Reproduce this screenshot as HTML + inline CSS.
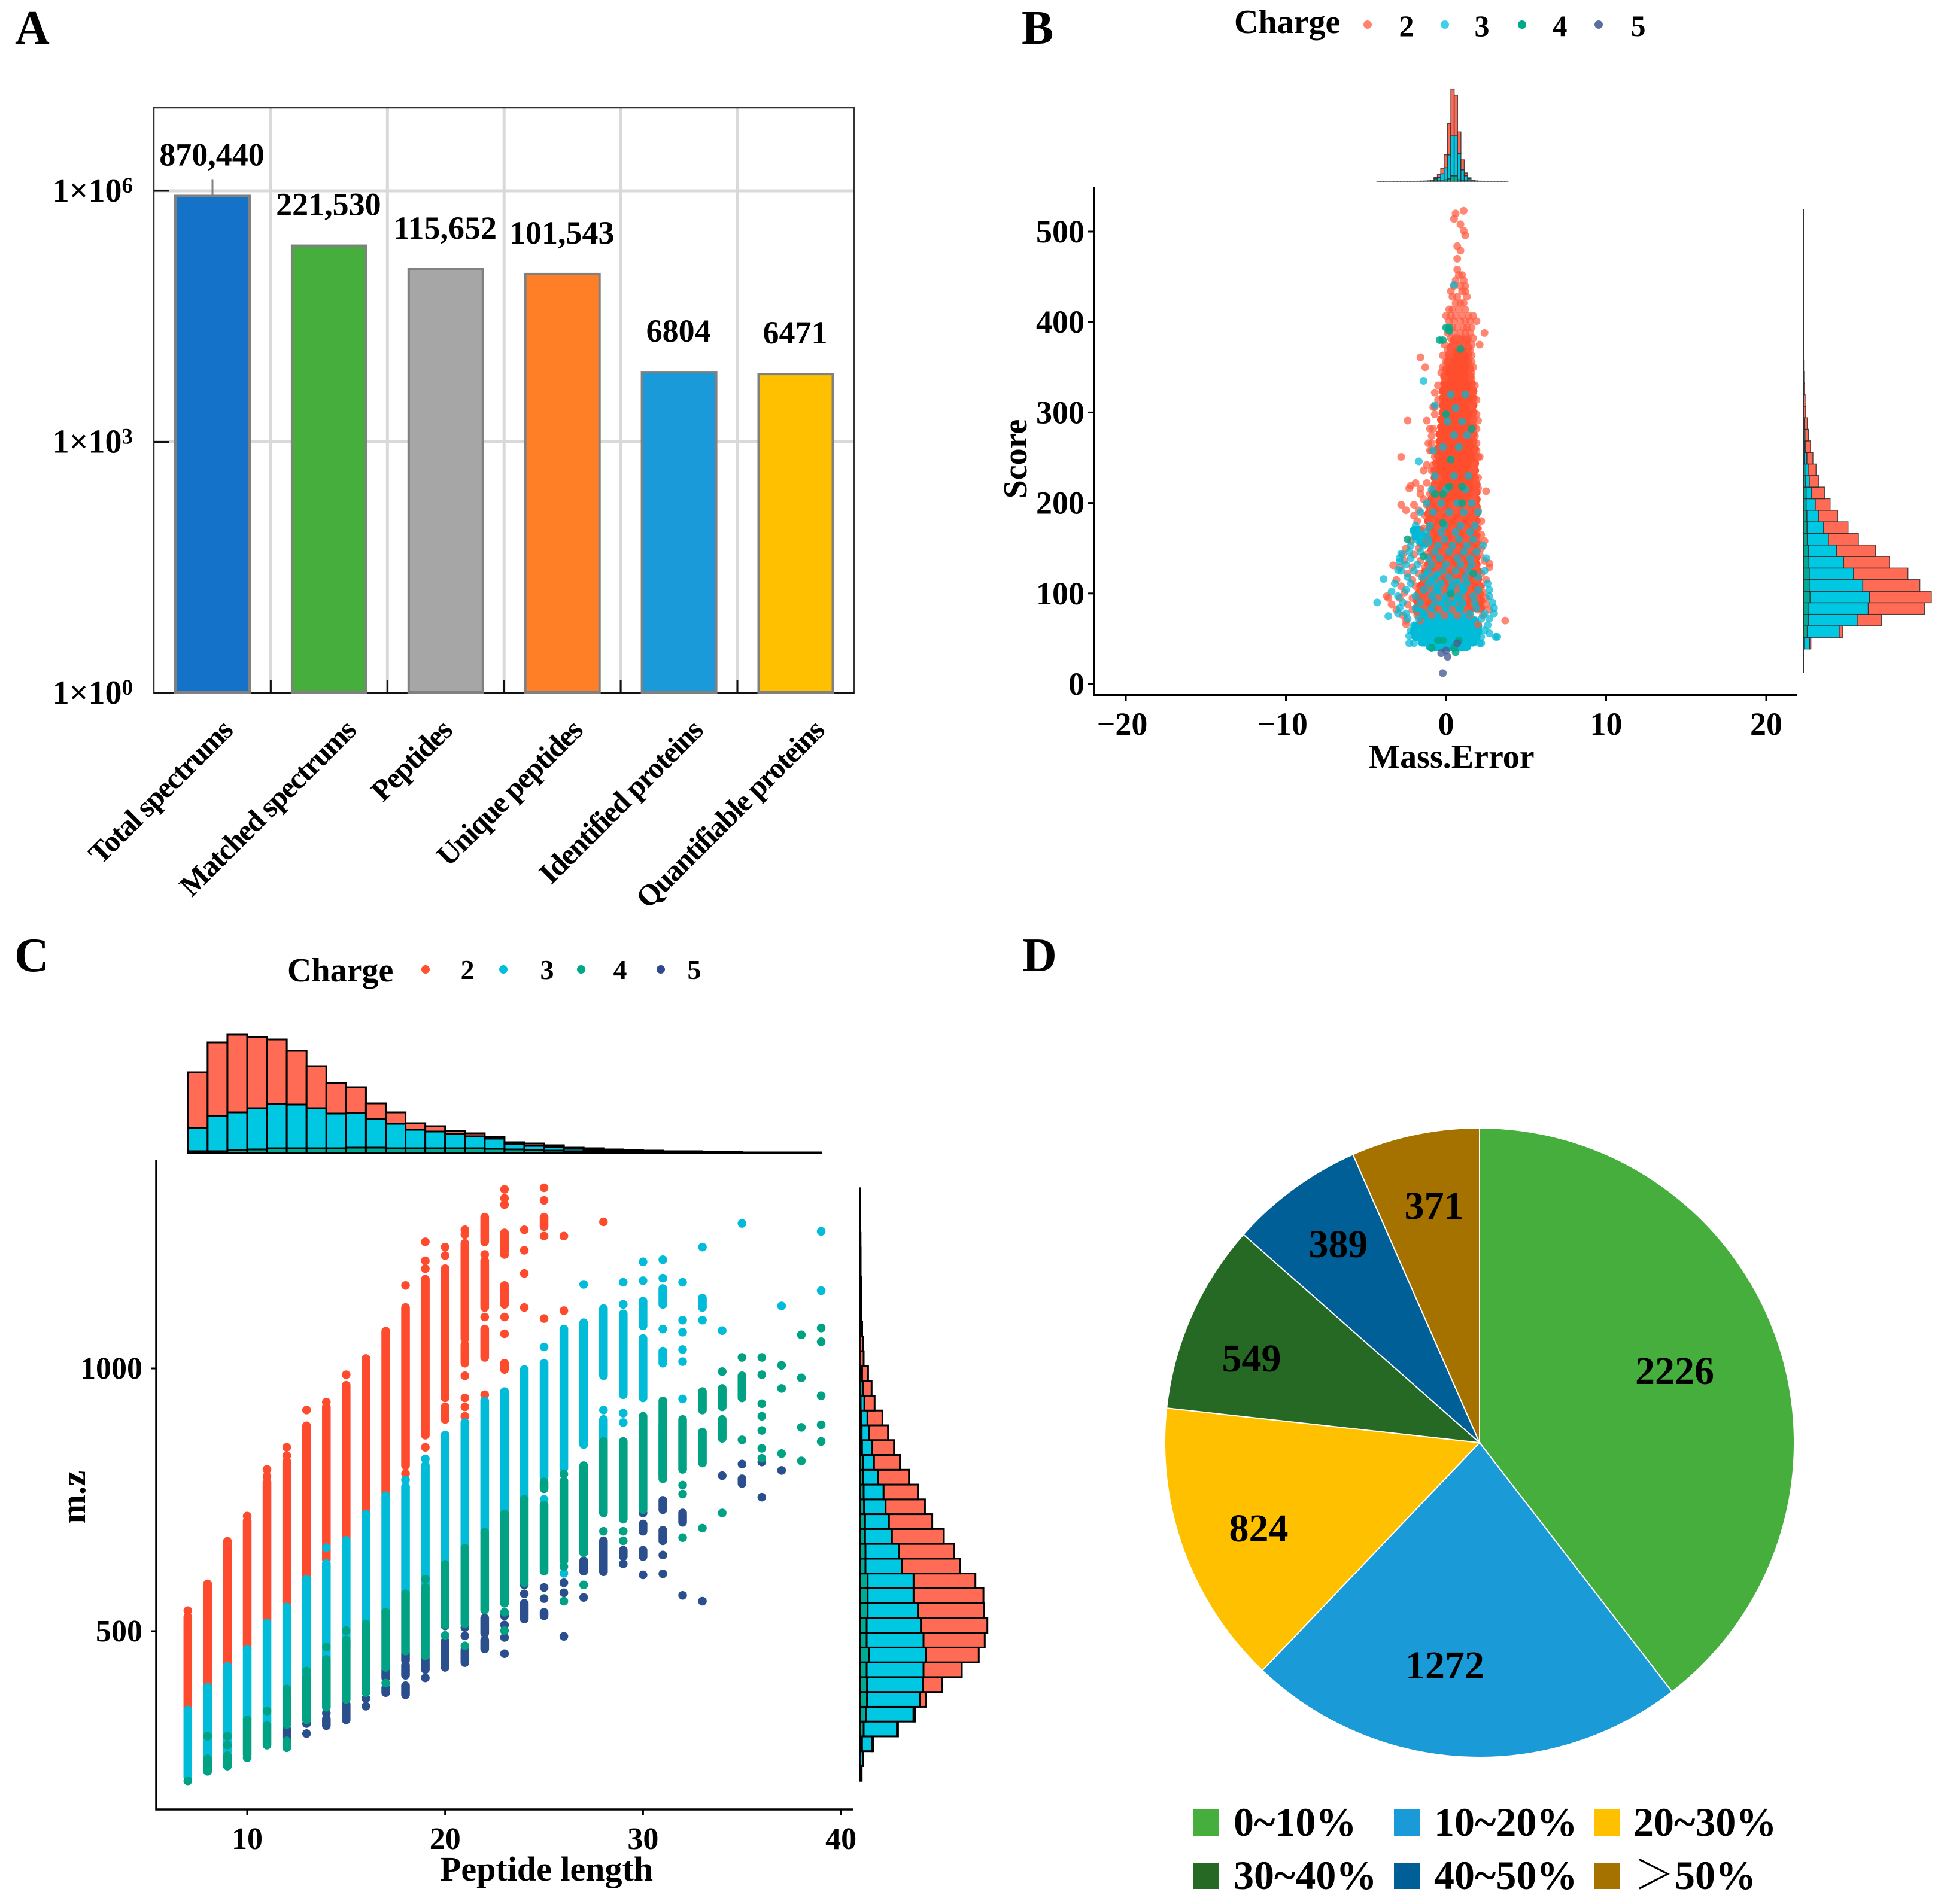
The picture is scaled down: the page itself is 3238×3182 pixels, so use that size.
<!DOCTYPE html>
<html lang="en">
<head>
<meta charset="utf-8">
<title>Proteomics QC figure</title>
<style>
html,body{margin:0;padding:0;background:#fff;}
svg{display:block;}
text{font-family:"Liberation Serif","Noto Serif CJK SC",serif;font-weight:bold;fill:#000;}
</style>
</head>
<body>
<svg id="fig" xmlns="http://www.w3.org/2000/svg" width="3238" height="3182" viewBox="0 0 3238 3182">
  <rect width="3238" height="3182" fill="#fff"/>
  <text x="25" y="73" font-size="80">A</text>
  <text x="1707" y="73" font-size="80">B</text>
  <text x="24" y="1623" font-size="80">C</text>
  <text x="1708" y="1623" font-size="80">D</text>

  <g id="panelA"></g>
  <g id="panelB"></g>
  <g id="panelC"></g>
  <g id="panelD"></g>

  <g>
    <text x="2062" y="55" font-size="56">Charge</text>
    <circle cx="2285" cy="41" r="7" fill="#ff5a40" fill-opacity=".75"/>
    <text x="2350" y="60" font-size="50" text-anchor="middle">2</text>
    <circle cx="2414" cy="41" r="7" fill="#00c0dc" fill-opacity=".75"/>
    <text x="2476" y="60" font-size="50" text-anchor="middle">3</text>
    <circle cx="2543" cy="41" r="7" fill="#00a888"/>
    <text x="2606" y="60" font-size="50" text-anchor="middle">4</text>
    <circle cx="2671" cy="41" r="7" fill="#5a6f9f"/>
    <text x="2737" y="60" font-size="50" text-anchor="middle">5</text>
  </g>
  <g>
    <text x="480" y="1640" font-size="56">Charge</text>
    <circle cx="711" cy="1620" r="7" fill="#ff5030"/>
    <text x="781" y="1636" font-size="46" text-anchor="middle">2</text>
    <circle cx="841" cy="1620" r="7" fill="#00bfdc"/>
    <text x="914" y="1636" font-size="46" text-anchor="middle">3</text>
    <circle cx="971" cy="1620" r="7" fill="#00a888"/>
    <text x="1036" y="1636" font-size="46" text-anchor="middle">4</text>
    <circle cx="1104" cy="1620" r="7" fill="#30488c"/>
    <text x="1160" y="1636" font-size="46" text-anchor="middle">5</text>
  </g>
  <g>
    <rect x="1994" y="3024" width="43" height="44" fill="#45ae3c"/>
    <text x="2061" y="3068" font-size="68">0~10%</text>
    <rect x="2329" y="3024" width="43" height="44" fill="#1b9ad8"/>
    <text x="2396" y="3068" font-size="68">10~20%</text>
    <rect x="2664" y="3024" width="43" height="44" fill="#ffc000"/>
    <text x="2729" y="3068" font-size="68">20~30%</text>
    <rect x="1994" y="3113" width="43" height="44" fill="#256925"/>
    <text x="2061" y="3157" font-size="68">30~40%</text>
    <rect x="2329" y="3113" width="43" height="44" fill="#005f96"/>
    <text x="2396" y="3157" font-size="68">40~50%</text>
    <rect x="2664" y="3113" width="43" height="44" fill="#a57200"/>
    <text x="2730" y="3157" font-size="68">＞50%</text>
  </g>
</svg>
<script>
/* ---------- Panel A data ---------- */
const summaryCategories = ["Total spectrums","Matched spectrums","Peptides","Unique peptides","Identified proteins","Quantifiable proteins"];
const summaryValues = [870440,221530,115652,101543,6804,6471];
const summaryLabels = ["870,440","221,530","115,652","101,543","6804","6471"];
const summaryColors = ["#1572c9","#45ae3c","#a6a6a6","#ff7f27","#1a9ad8","#ffc000"];
const summaryTickExponents = [0,3,6];

/* ---------- Panel B data ---------- */
const massErrorTicks = [-20,-10,0,10,20];
const scoreTicks = [0,100,200,300,400,500];
/* dense core of charge 2: [score, errLow, errHigh] */
const scoreRunsCharge2 = [[380,.5,1.3],[372,.3,1.4],[364,.2,1.4],[356,.1,1.4],[348,0,1.5],[340,-.1,1.5],[332,-.1,1.6],[324,-.2,1.7],[316,-.2,1.7],[308,-.2,1.7],[300,-.2,1.7],[292,-.3,1.7],[284,-.3,1.7],[276,-.4,1.7],[268,-.4,1.7],[260,-.5,1.8],[252,-.5,1.8],[244,-.6,1.8],[236,-.7,1.8],[228,-.7,1.8],[220,-.7,1.9],[212,-.8,1.9],[204,-.9,1.9],[196,-1.0,1.9],[188,-1.1,1.9],[180,-1.1,1.9],[172,-1.0,1.9],[164,-.9,1.9],[156,-.9,1.9],[148,-.9,1.9],[140,-1.0,1.9],[132,-1.1,1.9],[124,-1.3,2.0],[116,-1.4,2.0],[108,-1.6,2.1],[100,-1.7,2.1],[92,-1.8,2.2],[84,-1.8,2.2]];
/* dense patches of charge 3 */
const scoreRunsCharge3 = [[170,-2.0,-1.6],[163,-1.9,-1.2],[156,-1.6,-1.1],[120,-1.2,-.6],[112,-1.0,-.4],[112,.4,1.2],[104,-.9,-.4],[104,.3,1.0],[96,-.6,-.2],[96,.5,1.0],[88,-.3,.3],[88,.6,1.0],[80,-1.8,-1.0],[80,-.2,.9],[76,-1.2,1.4],[70,-1.5,1.8],[64,-1.9,2.0],[58,-2.0,2.0],[52,-1.9,1.9],[46,-1.5,1.7],[41,-1.0,1.3]];
/* individual points: [score, [mass errors]] */
const pointRowsCharge2 = [[523,[1.1]],[520,[.6]],[514,[.5]],[508,[.9]],[501,[1.1]],[496,[1.2]],[484,[.7]],[479,[.9]],[470,[.7]],[458,[.7]],[452,[.8,1.0]],[446,[.6,1.1]],[440,[.5,.9,1.2]],[434,[.3,1.0,1.2]],[428,[.4,.7,1.3]],[421,[.6,.9,1.1]],[414,[.2,.4,.8,1.2]],[407,[0,.3,.6,1.0,1.4,1.7]],[401,[.2,.5,.9,1.2,1.5,1.9]],[394,[.4,.7,1.1,1.3,1.6]],[388,[.1,.5,.9,1.2,1.5,2.4]],[382,[.3,.6,.8,1.1,1.4,1.7]],[375,[-.1,.4,.7,1.0,1.3,1.6,2.1]],[369,[.1,.3,1.5]],[363,[-.2,.2,1.6]],[361,[-1.6]],[356,[0,1.6]],[350,[-1.3,-.2,1.7]],[344,[-.3,1.6]],[338,[-.1,1.6]],[330,[-.5,1.8]],[322,[-.7,1.7]],[314,[-.5,1.9]],[306,[-.8,-.7,1.6]],[298,[-.7,1.9]],[291,[-2.4,-1.2,1.7,2.0]],[282,[-1.0,-.8,1.9]],[274,[-.9,1.8]],[266,[-1.1,-.9,1.9]],[258,[-1.0,-.9,1.9]],[251,[-2.8,-.7,2.0,2.1]],[242,[-1.2,-.8,1.8]],[236,[-1.4,-.9,1.7]],[228,[-.5,2.0]],[222,[-1.9,-1.2,-.7,1.9]],[219,[-2.2]],[216,[-2.3,-1.6,-.8,2.0]],[213,[2.5]],[210,[-1.6,-1.0,1.8]],[204,[-1.4,-.6,1.7]],[198,[-2.8,-2.0,-1.2,-.4,.4,1.2,1.8]],[192,[-2.5,-1.7,-1,-.2,.6,1.4,2.0]],[186,[-2.0,-1.3,-.5,.3,1.1,1.7]],[180,[-1.8,-.9,0,.8,1.6,2.2]],[172,[-1.4,-.5,.4,1.2,2.0]],[165,[-1.0,-.2,.6,1.4,2.2]],[158,[-2.2,-1.2,-.4,.4,1.2,2.0,2.4]],[150,[-2.5,-1.7,-.9,-.1,.7,1.5,2.2]],[143,[-2.7,-2.0,-1.2,-.3,.5,1.3,2.1]],[136,[-2.6,-1.6,-.8,.1,.9,1.7,2.4]],[133,[2.7]],[131,[-3.3]],[129,[-2.9,-2.1,-1.3,-.5,.3,1.1,1.9,2.7]],[122,[-2.4,-1.7,-.9,-.1,.7,1.5,2.2]],[115,[-3.1,-2.1,-1.3,-.5,.3,1.1,1.9,2.5]],[108,[-2.8,-1.9,-1.0,-.2,.6,1.4,2.2]],[101,[-2.6,-1.7,-.9,-.1,.7,1.5,2.3]],[97,[-3.7]],[95,[-3.6,-2.9,-2.1,-1.3,-.5,.3,1.1,1.9,2.5]],[88,[-3.4,-2.4,-1.5,-.7,.1,.9,1.7,2.5]],[82,[-3.1,-2.1,-1.2,-.4,.4,1.2,2.0,2.7]],[76,[-2.7,-1.8,-.9,-.1,.7,1.5,2.3]],[70,[-2.5,-1.6,3.7]],[66,[-2.5,2.0]]];
const pointRowsCharge3 = [[441,[.5]],[335,[-1.4]],[320,[.3,1.2]],[308,[-.7]],[305,[.6]],[290,[.1,1.0]],[275,[.5,1.3]],[262,[-.2,.8]],[258,[-.8]],[246,[-1.7]],[230,[-.7,.5,1.4]],[215,[-.9,0,1.2]],[200,[-1.2,-.3,.7,1.6]],[190,[-1.6,-.8,.2,1.1,2.0]],[175,[-1.9,-1.0,-.1,.9,1.8]],[168,[-2.0,-1.2,-.3,.6,1.5]],[160,[-1.9,-1.1,-.1,.8,1.7]],[153,[-2.2,-1.4,-.5,.4,1.3,2.3]],[146,[-2.3,-1.6,-.7,.2,1.1,1.9]],[144,[-2.8]],[139,[-2.9,-2.2,-1.1,-.4,.7,1.5,2.5]],[135,[-2.9]],[132,[-2.5,-1.8,-.9,0,.9,1.6]],[126,[-3.0]],[125,[-2.8,-2.0,-1.1,-.2,.6,1.4,2.4]],[118,[-2.4,-1.5,-.7,.2,1.2,2.0]],[116,[-3.9]],[111,[-3.2,-2.2,-1.1,-.3,.5,1.3,2.6]],[104,[-2.5,-1.4,-.6,.3,1.1,2.0,2.7]],[102,[-3.4]],[97,[-3.0,-1.9,-.9,0,.8,1.7,2.7]],[90,[-4.3,-2.7,-1.6,-.7,.2,1.0,1.8,2.9]],[84,[-2.9,-1.9,-.9,0,.9,1.9,3.0]],[78,[-3.0,-2.5,-1.4,1.5,2.4,3.0]],[75,[-3.6]],[72,[-2.4,-1.7,2.2,2.7]],[65,[-2.0,2.6]],[59,[-2.2,2.4]],[56,[2.7]],[53,[-2.3]],[52,[2.2,3.1,3.2]],[45,[-2.3,-2.0,2.1,2.2]]];
const pointRowsCharge4 = [[394,[0,.2]],[390,[.2]],[380,[-.4,-.2]],[370,[.9]],[298,[0]],[282,[1.6]],[248,[.3]],[218,[.2,1.0]],[210,[-.7,-.2]],[200,[1.0]],[178,[-.2]],[160,[-2.4]],[141,[-1.4]],[122,[1.7]],[100,[.3]],[48,[-.5,-.2,.8]],[40,[-.9,.5]],[35,[.6]]];
const pointRowsCharge5 = [[45,[.7]],[37,[0]],[34,[-.3]],[30,[.1]],[12,[-.2]]];
/* marginal histograms (bin counts) */
const massErrorHistCharge2 = [1,1,1,1,1,1,1,1,1,1,2,2,3,4,6,10,20,23,50,93,217,523,783,683,360,167,47,17,15,8,4,3,2,1,1,1,1,1,1];
const massErrorHistCharge3 = [0,0,0,0,0,0,0,0,0,0,0,0,0,0,0,0,0,33,57,117,200,400,667,667,440,183,83,33,0,0,0,0,0,0,0,0,0,0,0];
const massErrorHistCharge4 = [0,0,0,0,0,0,0,0,0,0,0,0,0,0,0,0,0,10,10,10,27,43,93,93,27,10,10,10,0,0,0,0,0,0,0,0,0,0,0];
const scoreHistCharge2 = [20,60,407,940,1033,953,907,767,647,500,407,313,247,213,160,133,100,80,60,50,40,30,20,10,5];
const scoreHistCharge3 = [83,533,817,993,993,893,740,580,473,353,277,200,153,93,67,53,43,23,17,10,0,0,0,0,0];
const scoreHistCharge4 = [23,67,83,93,113,100,100,93,87,67,63,60,47,47,33,27,17,17,10,7,0,0,0,0,0];

/* ---------- Panel C data ---------- */
const lengthTicks = [10,20,30,40];
const mzTicks = [500,1000];
const peptideLengths = [7,8,9,10,11,12,13,14,15,16,17,18,19,20,21,22,23,24,25,26,27,28,29,30,31,32,33,34,35,36,37,38,39];
/* m/z values per peptide length: [low, high] = run of overlapping points, [v] = single point */
const mzCharge2 = [
 [[539],[350,527]],[[394,590]],[[433,671]],[[719],[466,710]],[[808],[795],[518,784]],[[850],[834],[546,823]],[[921],[599,891]],[[936],[636,927]],[[988],[675,968]],[[725,1019]],[[762,1071]],[[1158],[800],[815,1116]],
 [[1241],[1205],[1190],[873,1170],[850]],[[1231],[1215],[944,1190],[903,927],[873]],[[1264],[1255],[1057,1238],[1010,1045],[986],[944],[927],[909]],[[1241,1288],[1217],[1116,1205],[1098],[1021,1075],[950]],
 [[1341],[1324],[1312],[1223,1258],[1217],[1122,1158],[1098],[1066],[998,1010]],[[1264],[1225],[1181],[1116]],[[1344],[1320],[1270,1288],[1252],[1095]],[[1252],[1110]],[],[[1279]],[],[],[],[],[],[],[],[],[],[],[]];
const mzCharge3 = [
 [[222,350]],[[248,394]],[[270,433]],[[331,466]],[[322,516]],[[381,546]],[[413,599]],[[659],[446,629]],[[461,673]],[[514,723]],[[536,758]],[[788],[571,775]],[[828],[583,815]],[[627,873]],[[658,897]],[[688,938]],[[727,956]],[[751,998]],
 [[1041],[793,1010],[751]],[[810,1075],[610]],[[1160],[855,1087]],[[986,1114],[921],[861,903]],[[1164],[1122],[950,1104],[915],[897]],[[1203],[1167],[1081,1128],[944,1057]],[[1207],[1172],[1122,1152],[1075],[1010,1033],[796,891]],
 [[1164],[1092],[1069],[1036],[1013],[942]],[[1231],[1116,1134],[1092]],[[1072]],[[1276]],[],[[1119]],[],[[1261],[1148]]];
const mzCharge4 = [
 [[215]],[[233,257],[300]],[[243,263],[283],[300]],[[265,331],[259]],[[283,320],[348]],[[278,291],[322,381],[390]],[[331,413],[424]],[[355,446],[470]],[[370,461],[466,483],[501]],[[383,514]],[[431,536],[401]],[[462,571]],[[453,583],[599]],[[512,627],[492]],[[514,658],[472]],[[540,688]],[[553,723],[536],[501]],[[592,751]],[[614,740],[771,784]],[[634,786],[799],[623],[557]],[[649,815],[588]],[[725,861],[690]],[[713,861],[690],[672]],[[731,909]],[[790,938]],
 [[808,903],[778],[761],[678]],[[921,956],[820,879],[696]],[[994],[927,962],[867,903],[725]],[[1021],[944,986],[864]],[[1021],[988],[933],[909],[882],[848],[829]],[[1006],[962],[838]],[[1064],[982],[888],[824]],[[1077],[1051],[948],[893],[861]]];
const mzCharge5 = [
 [],[],[],[],[],[[296,313]],[[324],[305]],[[344],[320,333]],[[379],[331,361]],[[372],[357]],[[411,427],[383,392]],[[444,459],[416,435],[379,396]],[[427,448],[411]],[[510],[431,481]],[[507],[491],[440,464]],[[496,525],[466,483]],[[554],[529],[512],[488],[457]],[[588],[571],[523,553]],[[583],[562],[529,536]],[[592],[573],[490]],[[614,634],[564]],[[613,672]],[[642,654],[628]],[[725],[690,704],[642,654],[607]],[[731,749],[672,692],[645],[609]],[[707,725],[568]],[[557]],[[796]],[[818],[781,790]],[[822],[755]],[[806]],[],[]];
const lengthHistCharge2 = [930,1230,1300,1190,1080,900,700,510,430,260,190,110,90,50,50,30,30,40,30,20,30,20,20,20,10,20,10,10,0,10,10,10];
const lengthHistCharge3 = [390,590,630,690,740,730,670,580,580,480,410,310,280,240,200,170,90,70,60,40,30,20,20,10,10,0,0,10,10,0,0,0];
const lengthHistCharge4 = [30,30,50,60,80,80,80,80,90,90,80,80,80,80,80,70,60,50,40,30,20,20,10,10,10,10,10,0,0,0,0,0];
const mzHistCharge2 = [0,0,17,17,23,100,323,640,883,1023,1110,1100,1167,1033,973,917,867,723,657,573,517,433,367,317,250,170,143,100,60,50,35,25,20,15,10,10,8,5,5,5];
const mzHistCharge3 = [27,50,167,557,793,883,933,950,950,950,907,840,767,767,610,560,450,400,360,333,250,183,167,123,107,63,43,27,0,0,0,0,0,0,0,0,0,0,0,0];
const mzHistCharge4 = [0,0,33,60,100,117,117,110,150,110,110,127,127,127,90,90,83,83,67,60,50,50,33,27,17,10,7,7,0,0,0,0,0,0,0,0,0,0,0,0];

/* ---------- Panel D data ---------- */
const coverageCounts = [2226,1272,824,549,389,371];
const coverageColors = ["#45ae3c","#1b9ad8","#ffc000","#256925","#005f96","#a57200"];

/* ---------- helpers ---------- */
const NS = 'http://www.w3.org/2000/svg';
function mk(parent, tag, attrs, text) {
  const el = document.createElementNS(NS, tag);
  for (const k in attrs) el.setAttribute(k, attrs[k]);
  if (text !== undefined) el.textContent = text;
  parent.appendChild(el);
  return el;
}
const RED_HIST = '#ff6b55', CYAN_HIST = '#00c8e2', GREEN_HIST = '#00ab96';

/* ---------- Panel A ---------- */
(function () {
  const g = document.getElementById('panelA');
  const left = 257, right = 1427, top = 180, bottom = 1158;
  const yA = v => bottom - Math.log10(v) * 139.83;
  const xA = i => 355 + i * 194.9;
  for (const e of summaryTickExponents) {
    if (e > 0) {
      const line = mk(g, 'line', {x1: left, x2: right, y1: yA(Math.pow(10, e)), y2: yA(Math.pow(10, e)), stroke: '#d9d9d9', 'stroke-width': 5});
      
      
    }
  }
  for (let i = 0; i < summaryValues.length - 1; i++) {
    const x = xA(i) + 97.4;
    const line = mk(g, 'line', {x1: x, x2: x, y1: top, y2: bottom, stroke: '#d9d9d9', 'stroke-width': 5});
    
    
    const tick = mk(g, 'line', {x1: x, x2: x, y1: bottom - 22, y2: bottom, stroke: '#111', 'stroke-width': 3});
    
    
  }
  const frame = mk(g, 'rect', {x: left, y: top, width: right - left, height: bottom - top, fill: 'none', stroke: '#333', 'stroke-width': 2.5});
  
  
  const base = mk(g, 'line', {x1: left, x2: right, y1: bottom, y2: bottom, stroke: '#111', 'stroke-width': 4});
  
  
  const leader = mk(g, 'line', {x1: xA(0), x2: xA(0), y1: yA(summaryValues[0]) - 28, y2: yA(summaryValues[0]), stroke: '#808080', 'stroke-width': 3});
  
  
  const nudge = [36, 47, 13, 36, 42, 50];
  summaryValues.forEach((v, i) => {
    const bar = mk(g, 'rect', {x: xA(i) - 62, y: yA(v), width: 124, height: bottom - yA(v) - 1, fill: summaryColors[i], stroke: '#808080', 'stroke-width': 4});
    
    
    const val = mk(g, 'text', {x: xA(i) - 1, y: yA(v) - 51, 'font-size': 54, 'text-anchor': 'middle'}, summaryLabels[i]);
    
    
    const ax = xA(i) + nudge[i], ay = 1224;
    const cat = mk(g, 'text', {x: ax, y: ay, 'font-size': 50, 'text-anchor': 'end', 'letter-spacing': -1.75, transform: 'rotate(-45 ' + ax + ' ' + ay + ')'}, summaryCategories[i]);
    
    
  });
  for (const e of summaryTickExponents) {
    const y = yA(Math.pow(10, e));
    const t = mk(g, 'line', {x1: left, x2: left + 25, y1: y, y2: y, stroke: '#111', 'stroke-width': 3});
    
    
    const lab = mk(g, 'text', {x: 222, y: y + 18, 'font-size': 56, 'text-anchor': 'end'});
    
    
    mk(lab, 'tspan', {}, '1×10');
    mk(lab, 'tspan', {'font-size': 37, dy: -15}, String(e));
  }
})();

/* ---------- shared stacked histograms ---------- */
function vertHist(parent, xOf, base, k, sers, colors, stroke, sw) {
  sers[0].forEach((_, i) => {
    let acc = 0;
    for (let s = sers.length - 1; s >= 0; s--) {
      const v = sers[s][i];
      if (v <= 0) continue;
      const r = mk(parent, 'rect', {x: xOf(i), y: base - (acc + v) * k, width: xOf(i + 1) - xOf(i), height: v * k, fill: colors[s], stroke: stroke, 'stroke-width': sw});
      
      
      acc += v;
    }
  });
}
function horizHist(parent, yOf, base, k, sers, colors, stroke, sw) {
  sers[0].forEach((_, i) => {
    let acc = 0;
    for (let s = sers.length - 1; s >= 0; s--) {
      const v = sers[s][i];
      if (v <= 0) continue;
      const r = mk(parent, 'rect', {x: base + acc * k, y: yOf(i + 1), width: v * k, height: yOf(i) - yOf(i + 1), fill: colors[s], stroke: stroke, 'stroke-width': sw});
      
      
      acc += v;
    }
  });
}

/* ---------- Panel B ---------- */
(function () {
  const g = document.getElementById('panelB');
  const xB = e => 2416 + e * 26.75;
  const yB = s => 1143 - s * 1.512;
  const RAD = 6.5;
  function runs(data, color) {
    data.forEach(r => {
      const l = mk(g, 'line', {x1: xB(r[1]), x2: xB(r[2]), y1: yB(r[0]), y2: yB(r[0]), stroke: color, 'stroke-width': 14, 'stroke-linecap': 'round'});
      
      
    });
  }
  function rows(data, color, op) {
    data.forEach(r => r[1].forEach(e => {
      const c = mk(g, 'circle', {cx: xB(e), cy: yB(r[0]), r: RAD, fill: color, 'fill-opacity': op});
      
      
    }));
  }
  runs(scoreRunsCharge2, '#ff4e2e');
  runs(scoreRunsCharge3, '#00bcd8');
  rows(pointRowsCharge2, '#ff5a40', .72);
  rows(pointRowsCharge3, '#00b9d6', .72);
  rows(pointRowsCharge4, '#00a888', .85);
  rows(pointRowsCharge5, '#4a5f95', .8);

  const hx = i => xB(-4.32 + i * 0.21);
  vertHist(g, hx, 303, 0.1, [massErrorHistCharge2, massErrorHistCharge3, massErrorHistCharge4], [RED_HIST, CYAN_HIST, GREEN_HIST], 'rgba(40,40,40,.8)', 1.5);
  const hy = i => yB(38.6 + i * 12.78);
  horizHist(g, hy, 3013, 0.1, [scoreHistCharge2, scoreHistCharge3, scoreHistCharge4], [RED_HIST, CYAN_HIST, GREEN_HIST], 'rgba(40,40,40,.8)', 1.5);
  const ra = mk(g, 'line', {x1: 3013, x2: 3013, y1: 349, y2: 1124, stroke: '#333', 'stroke-width': 2});
  
  

  const ax = mk(g, 'path', {d: 'M1828 312V1162H3002', fill: 'none', stroke: '#000', 'stroke-width': 4});
  
  
  massErrorTicks.forEach(v => {
    const t = mk(g, 'line', {x1: xB(v), x2: xB(v), y1: 1162, y2: 1171, stroke: '#000', 'stroke-width': 3});
    
    
    const lab = mk(g, 'text', {x: xB(v) - (v < 0 ? 6 : 0), y: 1228, 'font-size': 54, 'text-anchor': 'middle'}, v < 0 ? '\u2212' + (-v) : String(v));
    
    
  });
  scoreTicks.forEach(v => {
    const t = mk(g, 'line', {x1: 1817, x2: 1828, y1: yB(v), y2: yB(v), stroke: '#000', 'stroke-width': 3});
    
    
    const lab = mk(g, 'text', {x: 1812, y: yB(v) + 18, 'font-size': 54, 'text-anchor': 'end'}, String(v));
    
    
  });
  const xt = mk(g, 'text', {x: 2425, y: 1283, 'font-size': 56, 'text-anchor': 'middle'}, 'Mass.Error');
  
  
  const yt = mk(g, 'text', {x: 1715, y: 767, 'font-size': 56, 'text-anchor': 'middle', transform: 'rotate(-90 1715 767)'}, 'Score');
  
  
})();

/* ---------- Panel C ---------- */
(function () {
  const g = document.getElementById('panelC');
  const xC = L => 413 + (L - 10) * 33.07;
  const yC = v => 2726 - (v - 500) * 0.878;
  function strips(data, color) {
    data.forEach((list, i) => list.forEach(r => {
      const lo = r[0], hi = r.length > 1 ? r[1] : r[0];
      const l = mk(g, 'line', {x1: xC(peptideLengths[i]), x2: xC(peptideLengths[i]), y1: yC(lo), y2: yC(hi), stroke: color, 'stroke-width': 14.5, 'stroke-linecap': 'round'});
      
      
    }));
  }
  strips(mzCharge2, '#ff4b2d');
  strips(mzCharge3, '#00bcd8');
  strips(mzCharge5, '#2b4f8c');
  strips(mzCharge4, '#00a283');

  const hx = i => xC(7 + i);
  vertHist(g, hx, 1927, 0.1, [lengthHistCharge2, lengthHistCharge3, lengthHistCharge4], [RED_HIST, CYAN_HIST, GREEN_HIST], '#000', 3);
  const hy = i => yC(215 + i * 28.2);
  horizHist(g, hy, 1437, 0.1, [mzHistCharge2, mzHistCharge3, mzHistCharge4], [RED_HIST, CYAN_HIST, GREEN_HIST], '#000', 3);
  const ra = mk(g, 'line', {x1: 1437, x2: 1437, y1: 1987, y2: 2976, stroke: '#000', 'stroke-width': 4});
  
  

  const ax = mk(g, 'path', {d: 'M261 1938V3024H1425', fill: 'none', stroke: '#000', 'stroke-width': 3.5});
  
  
  lengthTicks.forEach(v => {
    const t = mk(g, 'line', {x1: xC(v), x2: xC(v), y1: 3024, y2: 3033, stroke: '#000', 'stroke-width': 3});
    
    
    const lab = mk(g, 'text', {x: xC(v), y: 3090, 'font-size': 52, 'text-anchor': 'middle'}, String(v));
    
    
  });
  mzTicks.forEach(v => {
    const t = mk(g, 'line', {x1: 252, x2: 261, y1: yC(v), y2: yC(v), stroke: '#000', 'stroke-width': 3});
    
    
    const lab = mk(g, 'text', {x: 238, y: yC(v) + 17, 'font-size': 52, 'text-anchor': 'end'}, String(v));
    
    
  });
  const xt = mk(g, 'text', {x: 913, y: 3143, 'font-size': 58, 'text-anchor': 'middle'}, 'Peptide length');
  
  
  const yt = mk(g, 'text', {x: 142, y: 2502, 'font-size': 58, 'text-anchor': 'middle', transform: 'rotate(-90 142 2502)'}, 'm.z');
  
  
})();

/* ---------- Panel D ---------- */
(function () {
  const g = document.getElementById('panelD');
  const cx = 2472, cy = 2411, R = 526;
  const total = coverageCounts.reduce((a, b) => a + b, 0);
  const offsets = [[326, -120], [-58, 372], [-369, 143], [-381, -141], [-236, -332], [-76, -396]];
  let ang = 0;
  coverageCounts.forEach((v, i) => {
    const a0 = ang, a1 = ang + v / total * 2 * Math.PI;
    ang = a1;
    const p0 = [cx + R * Math.sin(a0), cy - R * Math.cos(a0)];
    const p1 = [cx + R * Math.sin(a1), cy - R * Math.cos(a1)];
    const d = 'M' + cx + ' ' + cy + 'L' + p0[0] + ' ' + p0[1] + 'A' + R + ' ' + R + ' 0 ' + (a1 - a0 > Math.PI ? 1 : 0) + ' 1 ' + p1[0] + ' ' + p1[1] + 'Z';
    const s = mk(g, 'path', {d: d, fill: coverageColors[i], stroke: '#fff', 'stroke-width': 2});
    
    
  });
  coverageCounts.forEach((v, i) => {
    const t = mk(g, 'text', {x: cx + offsets[i][0], y: cy + offsets[i][1] + 22, 'font-size': 66, 'text-anchor': 'middle'}, String(v));
    
    
  });
})();
</script>
</body>
</html>
